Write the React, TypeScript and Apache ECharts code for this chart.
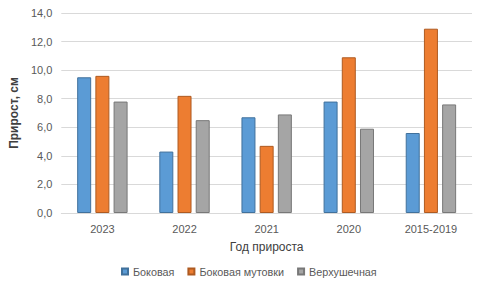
import React, { useEffect, useRef } from "react";
import * as echarts from "echarts";

const categories = ["2023", "2022", "2021", "2020", "2015-2019"];
const lateral = [9.5, 4.3, 6.7, 7.8, 5.6];
const lateralWhorl = [9.6, 8.2, 4.7, 10.9, 12.9];
const apical = [7.8, 6.5, 6.9, 5.9, 7.6];
const seriesNames = ["Боковая", "Боковая мутовки", "Верхушечная"];

const FONT = "'Liberation Sans', Arial, sans-serif";

export default function App() {
  const ref = useRef<HTMLDivElement>(null);
  useEffect(() => {
    if (!ref.current) return;
    const chart = echarts.init(ref.current, null, { renderer: "svg" });
    const mk = (name: string, data: number[], color: string, border: string) => ({
      name,
      type: "bar",
      data,
      barWidth: 14,
      barGap: "30%",
      itemStyle: { color, borderColor: border, borderWidth: 1 },
    });
    chart.setOption({
      animation: false,
      textStyle: { fontFamily: FONT },
      grid: { left: 57, right: 17, top: 13, bottom: 79, containLabel: false },
      legend: {
        bottom: 10,
        left: 116,
        itemWidth: 6,
        itemHeight: 6,
        itemGap: 13,
        icon: "rect",
        textStyle: { fontSize: 10.8, color: "#595959", fontFamily: FONT },
        data: seriesNames,
      },
      xAxis: {
        type: "category",
        data: categories,
        name: "Год прироста",
        nameLocation: "middle",
        nameGap: 28,
        nameTextStyle: { fontSize: 12, color: "#404040", fontFamily: FONT },
        axisLine: { lineStyle: { color: "#D9D9D9" } },
        axisTick: { show: false },
        axisLabel: { fontSize: 11, color: "#595959", margin: 10 },
      },
      yAxis: {
        type: "value",
        min: 0,
        max: 14,
        interval: 2,
        name: "Прирост, см",
        nameLocation: "middle",
        nameGap: 33,
        nameTextStyle: { fontSize: 12, color: "#404040", fontWeight: "bold", fontFamily: FONT },
        axisLine: { show: false },
        axisTick: { show: false },
        axisLabel: {
          fontSize: 11,
          color: "#595959",
          margin: 9,
          formatter: (v: number) => v.toFixed(1).replace(".", ","),
        },
        splitLine: { lineStyle: { color: "#D9D9D9" } },
      },
      series: [
        mk(seriesNames[0], lateral, "#5B9BD5", "#41719C"),
        mk(seriesNames[1], lateralWhorl, "#ED7D31", "#AE5A21"),
        mk(seriesNames[2], apical, "#A5A5A5", "#787878"),
      ],
    });
    return () => chart.dispose();
  }, []);
  return <div ref={ref} style={{ width: 489, height: 292, margin: -8 }} />;
}
